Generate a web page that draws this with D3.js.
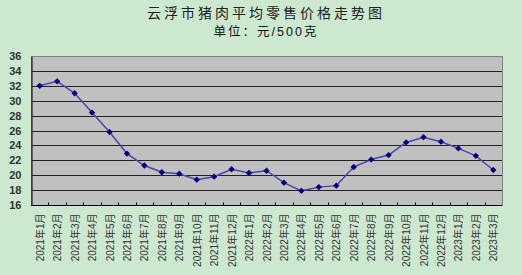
<!DOCTYPE html>
<html>
<head>
<meta charset="utf-8">
<script src="https://cdn.jsdelivr.net/npm/d3@7"></script>
<style>
  body { margin: 0; background: #cce8cf; }
  svg { display: block; font-family: "Liberation Sans", "Noto Sans CJK SC", sans-serif; }
</style>
</head>
<body>
<div id="container"></div>
<script>
const width = 522;
const height = 275;

// 月份
const months = [
  "2021年1月", "2021年2月", "2021年3月", "2021年4月", "2021年5月", "2021年6月",
  "2021年7月", "2021年8月", "2021年9月", "2021年10月", "2021年11月", "2021年12月",
  "2022年1月", "2022年2月", "2022年3月", "2022年4月", "2022年5月", "2022年6月",
  "2022年7月", "2022年8月", "2022年9月", "2022年10月", "2022年11月", "2022年12月",
  "2023年1月", "2023年2月", "2023年3月"
];
// 平均零售价格 元/500克
const prices = [
  32.0, 32.6, 31.0, 28.4, 25.8, 22.9, 21.3, 20.4, 20.2,
  19.4, 19.8, 20.8, 20.3, 20.6, 19.0, 17.9, 18.4, 18.6,
  21.1, 22.1, 22.7, 24.4, 25.1, 24.5, 23.6, 22.6, 20.7
];
const yTicks = [16, 18, 20, 22, 24, 26, 28, 30, 32, 34, 36];

const margin = { top: 56, right: 20, bottom: 70, left: 31 };
const svg = d3.select("#container").append("svg")
  .attr("width", width)
  .attr("height", height);

const x = d3.scaleBand().domain(months)
  .range([margin.left, width - margin.right]);
const y = d3.scaleLinear().domain([16, 36])
  .range([height - margin.bottom, margin.top]);

// 标题
svg.append("text")
  .attr("x", 266).attr("y", 18)
  .attr("text-anchor", "middle")
  .attr("font-size", 14)
  .attr("letter-spacing", 3)
  .attr("fill", "#222")
  .text("云浮市猪肉平均零售价格走势图");
svg.append("text")
  .attr("x", 266).attr("y", 36)
  .attr("text-anchor", "middle")
  .attr("font-size", 12.5)
  .attr("letter-spacing", 2)
  .attr("fill", "#111")
  .text("单位：元/500克");

// 绘图区
svg.append("rect")
  .attr("x", margin.left).attr("y", margin.top)
  .attr("width", width - margin.right - margin.left)
  .attr("height", y(16) - y(36))
  .attr("fill", "#c0c0c0");

svg.append("g")
  .selectAll("line")
  .data(yTicks.slice(1, -1))
  .join("line")
  .attr("x1", margin.left).attr("x2", width - margin.right)
  .attr("y1", (d) => Math.round(y(d)) + 0.5)
  .attr("y2", (d) => Math.round(y(d)) + 0.5)
  .attr("stroke", "#222")
  .attr("stroke-width", 1);

svg.append("rect")
  .attr("x", margin.left + 0.5).attr("y", margin.top + 0.5)
  .attr("width", width - margin.right - margin.left)
  .attr("height", y(16) - y(36))
  .attr("fill", "none")
  .attr("stroke", "#808080");

// y轴
const yAxis = svg.append("g")
  .attr("transform", `translate(${margin.left + 0.5},0)`)
  .call(d3.axisLeft(y).tickValues(yTicks).tickSize(0).tickPadding(10));
yAxis.select(".domain").attr("stroke", "#000");
yAxis.selectAll("text")
  .attr("font-size", 11)
  .attr("font-weight", "bold")
  .attr("fill", "#333");

// x轴
const bottom = Math.round(y(16)) + 0.5;
svg.append("line")
  .attr("x1", margin.left).attr("x2", width - margin.right)
  .attr("y1", bottom).attr("y2", bottom)
  .attr("stroke", "#000");
svg.append("g")
  .selectAll("line")
  .data(months.slice(1))
  .join("line")
  .attr("x1", (d) => Math.round(x(d)) + 0.5)
  .attr("x2", (d) => Math.round(x(d)) + 0.5)
  .attr("y1", bottom).attr("y2", bottom - 3)
  .attr("stroke", "#000");

svg.append("g")
  .selectAll("text")
  .data(months)
  .join("text")
  .attr("transform", (d) => `translate(${x(d) + x.bandwidth() / 2 + 4},${bottom + 8}) rotate(-90)`)
  .attr("text-anchor", "end")
  .attr("font-size", 10)
  .attr("fill", "#333")
  .text((d) => d);

// 折线
const line = d3.line()
  .x((d, i) => x(months[i]) + x.bandwidth() / 2)
  .y((d) => y(d));
svg.append("path")
  .datum(prices)
  .attr("d", line)
  .attr("fill", "none")
  .attr("stroke", "#4848a8")
  .attr("stroke-width", 1.5);

svg.append("g")
  .selectAll("path")
  .data(prices)
  .join("path")
  .attr("d", d3.symbol(d3.symbolSquare, 20))
  .attr("transform", (d, i) => `translate(${x(months[i]) + x.bandwidth() / 2},${y(d)}) rotate(45)`)
  .attr("fill", "#000080");
</script>
</body>
</html>
